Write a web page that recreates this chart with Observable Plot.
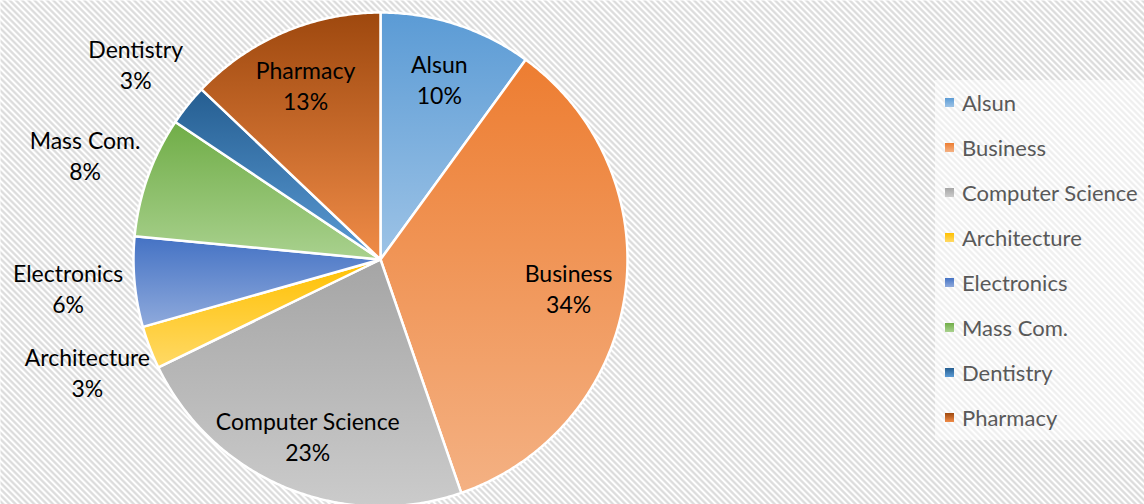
<!DOCTYPE html>
<html>
<head>
<meta charset="utf-8">
<script src="https://cdn.jsdelivr.net/npm/d3@7"></script>
<script src="https://cdn.jsdelivr.net/npm/@observablehq/plot@0.6"></script>
<style>
  html, body { margin: 0; padding: 0; background: #fff; }
  #wrap { position: relative; width: 1144px; height: 504px; overflow: hidden; }
  #legend { position: absolute; left: 935px; top: 80px; width: 209px; height: 360px;
            background: rgba(255,255,255,0.55); font-family: Lato, "Open Sans", sans-serif; }
  .item { position: absolute; left: 10px; height: 24px; display: flex; align-items: center;
          font-size: 22px; color: #595959; white-space: nowrap; }
  .sw { width: 9px; height: 9px; margin-right: 8px; flex: none; }
</style>
</head>
<body>
<div id="wrap"></div>
<script>
// ---- data ----
const categories = ["Alsun", "Business", "Computer Science", "Architecture", "Electronics", "Mass Com.", "Dentistry", "Pharmacy"];
const shares = [10, 34.7, 23.1, 2.8, 5.9, 7.9, 2.7, 12.9];
const percentLabels = ["10%", "34%", "23%", "3%", "6%", "8%", "3%", "13%"];
const topColors = ["#5B9BD5", "#ED7D31", "#A5A5A5", "#FFC000", "#4472C4", "#70AD47", "#255E91", "#9E480E"];
const bottomColors = ["#9DC3E6", "#F4B183", "#CBCBCB", "#FFD966", "#8FAADC", "#A9D18E", "#5B9BD5", "#F08C48"];

// ---- geometry (unit circle, clockwise from 12 o'clock) ----
const total = d3.sum(shares);
let acc = 0;
const slices = categories.map((name, i) => {
  const a0 = acc / total * 2 * Math.PI;
  acc += shares[i];
  const a1 = acc / total * 2 * Math.PI;
  const pts = [{x: 0, y: 0}];
  const n = Math.max(2, Math.ceil((a1 - a0) / (Math.PI / 360)));
  for (let k = 0; k <= n; k++) {
    const a = a0 + (a1 - a0) * k / n;
    pts.push({x: Math.sin(a), y: Math.cos(a)});
  }
  pts.push({x: 0, y: 0});
  const mid = (a0 + a1) / 2;
  const outside = shares[i] / total < 0.09;
  const r = outside ? 1.27 : 0.77;
  return {i, name, pts, label: {x: r * Math.sin(mid), y: r * Math.cos(mid), text: name + "\n" + percentLabels[i]}};
});

const W = 1144, H = 504, R = 247, CX = 380, CY = 259;

const marks = [
  Plot.frame({fill: "url(#hatch)", stroke: "none"}),
  ...slices.map(s => Plot.line(s.pts, {x: "x", y: "y", fill: `url(#grad${s.i})`, stroke: "#fff", strokeWidth: 2.5, strokeLinejoin: "round"})),
  Plot.text(slices.map(s => s.label), {x: "x", y: "y", text: "text", fill: "#000", fontSize: 23, lineHeight: 1.35, fontFamily: "Lato, 'Open Sans', sans-serif", textAnchor: "middle"})
];

const svg = Plot.plot({
  width: W, height: H,
  margin: 0,
  x: {domain: [-CX / R, (W - CX) / R], range: [0, W], axis: null},
  y: {domain: [-(H - CY) / R, CY / R], range: [H, 0], axis: null},
  marks
});

const defs = d3.select(svg).insert("defs", ":first-child");
const pat = defs.append("pattern").attr("id", "hatch").attr("patternUnits", "userSpaceOnUse")
  .attr("width", 4.4).attr("height", 4.4).attr("patternTransform", "rotate(-45)");
pat.append("rect").attr("width", 4.4).attr("height", 4.4).attr("fill", "#fff");
pat.append("line").attr("x1", 2.2).attr("y1", 0).attr("x2", 2.2).attr("y2", 4.4)
  .attr("stroke", "#d9d9d9").attr("stroke-width", 2.1);
categories.forEach((c, i) => {
  const g = defs.append("linearGradient").attr("id", "grad" + i)
    .attr("x1", 0).attr("y1", 0).attr("x2", 0).attr("y2", 1);
  g.append("stop").attr("offset", "0%").attr("stop-color", topColors[i]);
  g.append("stop").attr("offset", "100%").attr("stop-color", bottomColors[i]);
});

const wrap = document.getElementById("wrap");
wrap.appendChild(svg);

const legend = document.createElement("div");
legend.id = "legend";
categories.forEach((c, i) => {
  const item = document.createElement("div");
  item.className = "item";
  item.style.top = (10 + i * 45) + "px";
  const sw = document.createElement("span");
  sw.className = "sw";
  sw.style.background = `linear-gradient(${topColors[i]}, ${bottomColors[i]})`;
  const t = document.createElement("span");
  t.textContent = c;
  item.appendChild(sw);
  item.appendChild(t);
  legend.appendChild(item);
});
wrap.appendChild(legend);
</script>
</body>
</html>
